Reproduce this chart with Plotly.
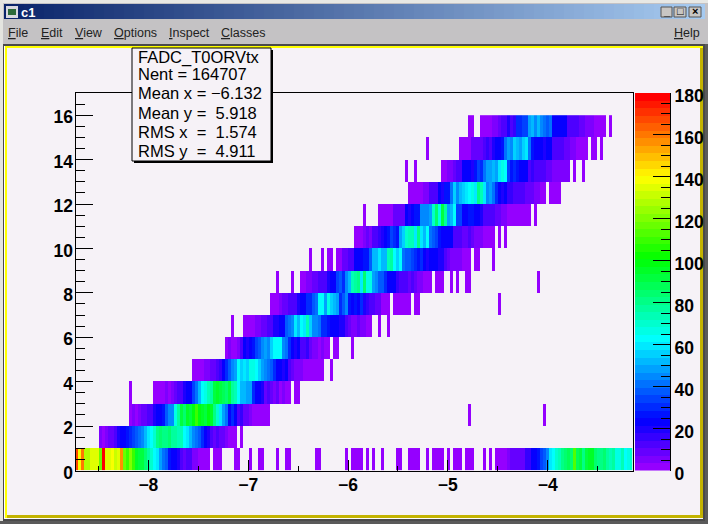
import colorsys
import plotly.graph_objects as go

W, H = 708, 524

# ---------- data ----------
BIN_COUNT = 186
BIN_WIDTH = 0.03
X_MIN = -8.73
ROW_COUNT = 16

row_00_start = 0
row_00 = [168,138,160,128,128,134,136,134,118,178,136,134,138,132,136,158,118,110,122,108,95,92,90,86,78,70,62,58,50,42,36,28,24,22,20,14,10,14,12,6,6,3,3,3,3]
row_00b_start = 140
row_00b = [3,3,3,3,5,8,8,10,10,10,16,16,22,24,26,34,36,44,58,62,70,72,80,84,88,84,112,88,90,82,92,94,94,84,82,80,84,78,72,76,68,68,72,64,66,70]
row_01_start = 8
row_01 = [4,3,5,8,10,12,18,22,24,26,32,34,38,42,44,52,58,62,70,82,84,80,82,84,78,76,74,72,64,60,52,46,40,36,30,22,18,14,10,12,8,8,6,3,2,3]
row_02_start = 18
row_02 = [3,4,3,4,8,8,12,14,18,22,24,28,38,44,46,66,78,90,85,95,92,100,108,100,95,92,100,95,80,70,60,48,42,25,30,22,14,16,8,10,4,3,3,3,3,3]
row_03_start = 28
row_03 = [3,3,4,3,5,8,12,14,18,22,24,34,40,52,62,66,74,78,92,95,92,88,85,90,78,72,62,52,52,50,48,30,24,22,18,10,12,8,6,8,3,5,3,3]
row_04_start = 41
row_04 = [3,3,4,6,8,10,14,16,24,32,36,44,50,62,54,60,55,68,66,62,56,50,44,40,36,30,24,22,18,22,14,8,6,5,4,3,3,3,3,2,3,3]
row_05_start = 50
row_05 = [3,4,3,3,6,12,22,18,22,26,34,38,44,48,46,56,62,62,62,44,40,32,22,20,22,14,12,16,8,6,5,3,4,3,3]
row_06_start = 56
row_06 = [3,3,3,3,5,5,8,10,14,12,18,18,24,22,38,42,46,58,52,62,60,72,55,46,44,40,32,30,28,24,22,22,18,20,12,10,6,6,8,5,5,3,3]
row_07_start = 67
row_07 = [3,4,8,10,12,12,14,20,22,22,30,32,36,40,64,64,50,68,56,52,50,32,36,44,28,24,28,22,30,18,16,14,12,10,8,3,3,3]
row_08_start = 75
row_08 = [3,3,5,5,8,10,12,14,14,20,22,24,34,38,30,46,52,72,76,80,60,85,66,68,48,44,38,36,32,22,22,24,16,12,14,12,10,12,8,6,5,3,3,3]
row_09_start = 87
row_09 = [3,3,8,10,14,14,22,22,24,26,28,36,52,52,60,52,52,72,76,62,54,64,40,38,36,34,30,26,32,22,20,22,22,24,20,18,12,10,5,5,6,6,3,3,3]
row_10_start = 93
row_10 = [3,3,3,5,8,6,14,14,16,20,22,26,34,32,28,50,54,70,74,74,60,82,60,52,62,40,36,34,28,24,22,22,22,14,14,12,10,10,12,8,5,4,4,3,3,3,3]
row_11_start = 102
row_11 = [3,3,3,3,8,8,8,8,22,20,24,28,28,44,44,46,50,70,84,66,90,78,50,52,62,34,34,24,22,28,26,24,22,20,12,12,14,14,10,8,6,5,3,3,3,3]
row_12_start = 111
row_12 = [3,3,3,3,3,5,5,14,12,14,22,20,28,26,40,56,46,52,56,58,62,66,60,82,72,58,44,48,40,30,22,20,22,16,16,14,14,12,12,10,8,8,6,5,3]
row_13_start = 122
row_13 = [3,3,4,5,10,14,14,22,22,22,20,28,34,32,40,48,50,52,50,60,66,64,34,28,30,26,22,22,24,14,16,14,12,14,12,8,8,6,6,5,5,5,4]
row_14_start = 128
row_14 = [3,3,3,3,8,8,8,10,14,16,12,20,22,24,28,42,48,46,54,52,50,54,58,42,28,22,22,24,20,24,22,14,14,12,12,8,8,5,4,3,3,3,3]
row_15_start = 136
row_15 = [3,3,3,4,5,10,14,12,18,14,16,30,32,34,34,50,52,44,52,46,42,38,40,24,22,22,24,22,14,12,14,14,10,8,6,5,4,3,3,3,3]

# single low-count bins that stand apart from each row's main band: (bin numbers per row)
sparse_00 = [46,47,48,53,54,58,61,62,67,70,71,80,81,90,92,93,94,95,97,99,102,107,108,111,112,113,114,117,119,120,121,122,124,126,127,128,130,131,132,136,138]
sparse_01 = [55]
sparse_02 = [64,131,156]
sparse_03 = [18,26,27,73,74]
sparse_04 = [39,40,85]
sparse_05 = [86,87,92]
sparse_06 = [52,101,104]
sparse_07 = [65,66,106,107,108,109,110,111,113,114,141]
sparse_08 = [67,72,120,121,122,125,127,130,131,154]
sparse_09 = [78,82,84,85,133,134,139]
sparse_10 = [141,143]
sparse_11 = [96,101,148,149,150,151,153]
sparse_12 = [156,158,159,160,161]
sparse_13 = [110,113,166,169]
sparse_14 = [117,172,173,175]
sparse_15 = [131,132,135,178]
SPARSE_VALUE = 1

x_ticks = [-8, -7, -6, -5, -4]
y_ticks = [0, 2, 4, 6, 8, 10, 12, 14, 16]
bar_ticks = [0, 20, 40, 60, 80, 100, 120, 140, 160, 180]
stats_lines = ["FADC_T0ORVtx", "Nent = 164707", "Mean x = \u22126.132", "Mean y =  5.918", "RMS x  =  1.574", "RMS y  =  4.911"]
menu_items = ["<u>F</u>ile", "<u>E</u>dit", "<u>V</u>iew", "<u>O</u>ptions", "<u>I</u>nspect", "<u>C</u>lasses"]

# ---------- assemble grid ----------
blocks = [(0,row_00_start,row_00),(0,row_00b_start,row_00b),(1,row_01_start,row_01),(2,row_02_start,row_02),
          (3,row_03_start,row_03),(4,row_04_start,row_04),(5,row_05_start,row_05),(6,row_06_start,row_06),
          (7,row_07_start,row_07),(8,row_08_start,row_08),(9,row_09_start,row_09),(10,row_10_start,row_10),
          (11,row_11_start,row_11),(12,row_12_start,row_12),(13,row_13_start,row_13),(14,row_14_start,row_14),
          (15,row_15_start,row_15)]
sparse = [sparse_00,sparse_01,sparse_02,sparse_03,sparse_04,sparse_05,sparse_06,sparse_07,sparse_08,
          sparse_09,sparse_10,sparse_11,sparse_12,sparse_13,sparse_14,sparse_15]
grid = [[None]*BIN_COUNT for _ in range(ROW_COUNT)]
for r, s, vals in blocks:
    for i, v in enumerate(vals):
        if s+i < BIN_COUNT:
            grid[r][s+i] = v
for r, bins in enumerate(sparse):
    for b in bins:
        grid[r][b] = SPARSE_VALUE

# ---------- palette: 50-step rainbow ----------
def hue_colour(t):
    h = 275*(1-t)/360
    r, g, b = colorsys.hls_to_rgb(h, 0.5, 1.0)
    return f"rgb({round(r*255)},{round(g*255)},{round(b*255)})"
N = 50
palette = [hue_colour(i/(N-1)) for i in range(N)]
scale = []
for i, c in enumerate(palette):
    scale += [[i/N, c], [(i+1)/N, c]]
ZMAX = 180
levels = [(i+0.5)*ZMAX/N for i in range(N)]

# ---------- pixel helpers ----------
def px(x): return x/W
def py(y): return 1-y/H
BG = "#f6f2f7"
FONT = "Liberation Sans"
shapes, ann = [], []
def rect(x0,y0,x1,y1,fill,layer="below",line=None):
    shapes.append(dict(type="rect",xref="paper",yref="paper",x0=px(x0),x1=px(x1),y0=py(y0),y1=py(y1),
                       fillcolor=fill,line=dict(width=0 if line is None else 1,color=line or fill),layer=layer))
def text(x,y,t,size,color="black",anchor="left",bold=False):
    ann.append(dict(xref="paper",yref="paper",x=px(x),y=py(y),text=f"<b>{t}</b>" if bold else t,showarrow=False,
                    xanchor=anchor,yanchor="middle",xshift=0,font=dict(family=FONT,size=size,color=color),borderpad=0,borderwidth=0))

# window chrome
rect(0,0,W,H,"#c4c2c4")
rect(0,0,W,3,"#e8e8e4")
rect(0,0,3,H,"#e4e4e0")
steps = 70
for i in range(steps):
    t = i/(steps-1)
    c0, c1 = (10,36,106), (166,202,240)
    col = "rgb(%d,%d,%d)" % tuple(round(a+(b-a)*t) for a,b in zip(c0,c1))
    rect(4+(W-8)*i/steps,4,4+(W-8)*(i+1)/steps+1,19,col)
rect(3,44,W-3,H-3,"#4a4a4a")
rect(4,46,W-5,H-5,"#fdfdfb")
rect(5,46,703,518,"#c3b300")
rect(5,46,703,48,"#ffff00")
rect(5,46,7,518,"#ffff00")
rect(7,48,700,515,BG)
rect(0,521,W,H,"#5a5a5a")
rect(705,44,W,H,"#5a5a5a")
# title-bar icon and buttons
rect(6,6,18,18,"#d8d8e0")
rect(8,9,16,15,"#2c6a3a")
for x0,x1,mark in [(661,672,"_"),(674,686,"\u25a1"),(689,701,"\u00d7")]:
    rect(x0,7,x1,17,"#c8c6c4",line="#555555")
    text((x0+x1)/2,11.5,f"{mark}",11,anchor="center",bold=True)
text(21,12,"c1",13,color="white",bold=True)
for x,t in zip([8,41,75,114,169,221],menu_items):
    text(x,33,t,12.5,color="#222222")
text(674,33,"<u>H</u>elp",12.5,color="#222222")

# stats box
rect(134,50,273,163,"black",layer="above")
rect(132,48,271,161,BG,layer="above",line="black")
for y,t in zip([57,74,93,113,132,151],stats_lines):
    text(138,y,t,16.5)

# ---------- figure ----------
fig = go.Figure()
fig.add_trace(go.Heatmap(z=grid,x0=X_MIN+BIN_WIDTH/2,dx=BIN_WIDTH,y0=0.5,dy=1,zmin=0,zmax=ZMAX,
                         colorscale=scale,showscale=False,hoverongaps=False,xaxis="x",yaxis="y"))
fig.add_trace(go.Heatmap(z=[[v] for v in levels],x=[0],y=levels,zmin=0,zmax=ZMAX,
                         colorscale=scale,showscale=False,xaxis="x2",yaxis="y2"))
tickfont = dict(family=FONT,size=17.5,color="black",weight="bold")
top, bottom = 93, 470.5
fig.update_layout(
    width=W,height=H,autosize=False,margin=dict(l=0,r=0,t=0,b=0,pad=0,autoexpand=False),
    paper_bgcolor=BG,plot_bgcolor="rgba(0,0,0,0)",showlegend=False,shapes=shapes,annotations=ann,
    xaxis=dict(domain=[px(75.5),px(632.5)],range=[X_MIN,X_MIN+BIN_COUNT*BIN_WIDTH],tickvals=x_ticks,ticks="inside",ticklen=11,
               tickcolor="black",tickwidth=1,minor=dict(dtick=0.5,ticks="inside",ticklen=5,tickcolor="black",tickwidth=1),
               showgrid=False,zeroline=False,showline=True,mirror=True,linecolor="black",linewidth=1,
               tickfont=tickfont,anchor="y",ticklabelstandoff=-2),
    yaxis=dict(domain=[py(bottom),py(top)],range=[0,17],tickvals=y_ticks,ticks="inside",ticklen=17,
               tickcolor="black",tickwidth=1,minor=dict(dtick=0.5,ticks="inside",ticklen=9,tickcolor="black",tickwidth=1),
               showgrid=False,zeroline=False,showline=True,mirror=True,linecolor="black",linewidth=1,
               tickfont=tickfont,anchor="x",ticklabelstandoff=-2,ticklabelshift=2),
    xaxis2=dict(domain=[px(635),px(670)],visible=False,anchor="y2",range=[-0.5,0.5]),
    yaxis2=dict(domain=[py(bottom),py(top)],range=[0,ZMAX],side="right",anchor="x2",tickvals=bar_ticks,ticks="inside",ticklen=17,
                tickcolor="black",tickwidth=1,minor=dict(dtick=5,ticks="inside",ticklen=9,tickcolor="black",tickwidth=1),
                showgrid=False,zeroline=False,showline=True,linecolor="black",linewidth=1,tickfont=tickfont,ticklabelstandoff=0,ticklabelshift=3),
)
fig.write_html("out.html",config={"displayModeBar":False},post_script="document.body.style.margin='0';document.documentElement.style.overflow='hidden';")
